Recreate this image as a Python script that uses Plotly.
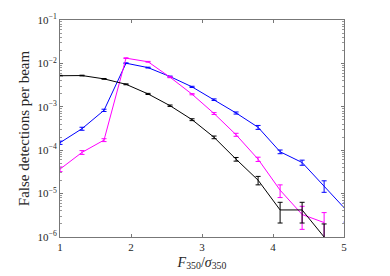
import plotly.graph_objects as go

snr = [1.0, 1.31, 1.62, 1.93, 2.24, 2.55, 2.86, 3.17, 3.48, 3.79, 4.10, 4.41, 4.72, 5.03]

blue_vals = [1.49e-4, 3.13e-4, 8.3e-4, 1.01e-2, 8.0e-3, 4.97e-3, 2.88e-3, 1.46e-3,
             7.2e-4, 3.37e-4, 9.2e-5, 5.2e-5, 1.52e-5, 4.2e-6]
blue_err = [1.3e-5, 2.5e-5, 5e-5, 2e-4, 1.8e-4, 1.3e-4, 9e-5, 6e-5,
            4e-5, 3.5e-5, 9e-6, 7e-6, 4.5e-6, 2e-6]

magenta_vals = [3.66e-5, 8.9e-5, 1.71e-4, 1.32e-2, 1.09e-2, 4.8e-3, 1.95e-3, 7.0e-4,
                2.27e-4, 6.2e-5, 1.2e-5, 3.3e-6, 2.15e-6]
magenta_err = [4.5e-6, 9e-6, 1.3e-5, 2.5e-4, 2.2e-4, 1.2e-4, 6e-5, 3.5e-5,
               1.8e-5, 7e-6, 3.9e-6, 1.8e-6, 1.5e-6]

black_vals = [5.2e-3, 5.25e-3, 4.4e-3, 3.3e-3, 1.98e-3, 1.06e-3, 5.05e-4, 1.98e-4,
              6.2e-5, 2.04e-5, 4.2e-6, 4.2e-6, 1.0e-6]
black_err = [1e-4, 1e-4, 9e-5, 8e-5, 6e-5, 4e-5, 2.5e-5, 1.4e-5,
             6e-6, 4.5e-6, 2.1e-6, 2.1e-6, 1e-6]

series = [
    ("blue", blue_vals, blue_err, "#0000ff"),
    ("magenta", magenta_vals, magenta_err, "#ff00ff"),
    ("black", black_vals, black_err, "#000000"),
]

x_ticks = [1, 2, 3, 4, 5]
y_exps = [-6, -5, -4, -3, -2, -1]

y_tickvals = [10.0 ** e for e in y_exps]
y_ticktext = ["10<sup>\u2212%d</sup>" % (-e) for e in y_exps]
y_minor = [m * 10.0 ** e for e in y_exps[:-1] for m in range(2, 10)]

fig = go.Figure()
for name, vals, err, col in series:
    fig.add_trace(go.Scatter(
        x=snr[:len(vals)], y=vals, mode="lines", name=name,
        line=dict(color=col, width=1),
        error_y=dict(type="data", array=err, visible=True, color=col,
                     thickness=1, width=2.5),
        showlegend=False, cliponaxis=True,
    ))

axis_font = dict(family="Liberation Serif", size=11, color="#262626")
fig.update_xaxes(
    range=[1, 5], tickvals=x_ticks, ticktext=[str(v) for v in x_ticks],
    ticks="inside", ticklen=3, tickcolor="#777", mirror="allticks",
    showline=True, linecolor="#777", linewidth=1, showgrid=False, zeroline=False,
    tickfont=axis_font, automargin=False,
    title=dict(text="<i>F</i><sub>350</sub>/<i>σ</i><sub>350</sub>",
               font=dict(family="Liberation Serif", size=14, color="#262626"),
               standoff=4),
)
fig.update_yaxes(
    type="log", range=[-6, -1], tickvals=y_tickvals, ticktext=y_ticktext,
    ticks="inside", ticklen=3, tickcolor="#777", mirror="allticks",
    showline=True, linecolor="#777", linewidth=1, showgrid=False, zeroline=False,
    minor=dict(ticks="inside", ticklen=2, tickcolor="#999", tickmode="array",
               tickvals=y_minor, showgrid=False),
    tickfont=axis_font, automargin=False,
    title=dict(text="False detections per beam",
               font=dict(family="Liberation Serif", size=15, color="#262626"),
               standoff=4),
)
fig.update_layout(
    width=390, height=276,
    margin=dict(l=60, r=46, t=20, b=39),
    paper_bgcolor="white", plot_bgcolor="white",
)
fig.write_html("out.html", config={"displayModeBar": False},
               post_script="document.body.style.margin='0';document.body.style.overflow='hidden';")
